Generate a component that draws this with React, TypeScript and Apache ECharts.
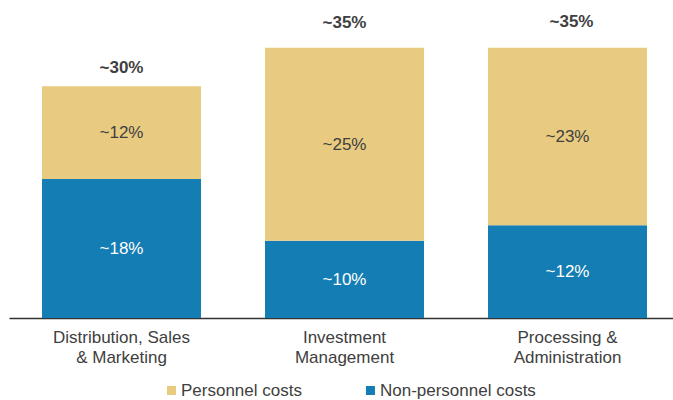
import React, { useEffect, useRef } from "react";
import * as echarts from "echarts";

const categories = ["Distribution, Sales\n& Marketing", "Investment\nManagement", "Processing &\nAdministration"];
const seriesNames = ["Personnel costs", "Non-personnel costs"];
const nonPersonnel = [18, 10, 12];
const personnel = [12, 25, 23];
const totals = [30, 35, 35];

const FONT = "Arial, 'Liberation Sans', sans-serif";
const TEXT = "#404040";
const BLUE = "#147DB3";
const YELLOW = "#E8CB80";

export default function App() {
  const ref = useRef<HTMLDivElement>(null);
  useEffect(() => {
    document.body.style.margin = "0";
    document.body.style.overflow = "hidden";
    if (!ref.current) return;
    const chart = echarts.init(ref.current, null, { renderer: "svg" });
    const totalLabelStyles = [
      { distance: 10, offset: [0, 0] },
      { distance: 17, offset: [0, 0] },
      { distance: 18, offset: [4, 0] },
    ];
    chart.setOption({
      animation: false,
      textStyle: { fontFamily: FONT },
      grid: { left: 10, right: 0, top: 9, height: 309, containLabel: false },
      legend: {
        data: seriesNames,
        left: 162,
        top: 377,
        icon: "rect",
        itemWidth: 9,
        itemHeight: 9,
        itemGap: 64,
        textStyle: { fontSize: 17, color: TEXT, fontFamily: FONT },
      },
      xAxis: {
        type: "category",
        data: categories,
        axisTick: { show: false },
        axisLine: { lineStyle: { color: "#333333", width: 1.3 } },
        axisLabel: { fontSize: 17, lineHeight: 20, color: TEXT, margin: 9, fontFamily: FONT },
      },
      yAxis: { type: "value", min: 0, max: 40, show: false, splitLine: { show: false } },
      series: [
        {
          name: seriesNames[1],
          type: "bar",
          stack: "cost",
          barWidth: 159,
          data: nonPersonnel,
          itemStyle: { color: BLUE },
          label: { show: true, position: "inside", color: "#ffffff", fontSize: 17, fontFamily: FONT, formatter: "~{c}%" },
        },
        {
          name: seriesNames[0],
          type: "bar",
          stack: "cost",
          barWidth: 159,
          data: personnel,
          itemStyle: { color: YELLOW },
          label: { show: true, position: "inside", color: TEXT, fontSize: 17, fontFamily: FONT, formatter: "~{c}%" },
        },
        {
          name: "Total",
          type: "bar",
          barWidth: 159,
          barGap: "-100%",
          data: totals.map((v, i) => ({ value: v, label: totalLabelStyles[i] })),
          z: 1,
          silent: true,
          itemStyle: { color: "rgba(0,0,0,0)" },
          label: { show: true, position: "top", distance: 10, color: TEXT, fontSize: 17, fontWeight: "bold", fontFamily: FONT, formatter: "~{c}%" },
        },
      ],
    });
    return () => chart.dispose();
  }, []);
  return <div ref={ref} style={{ width: 679, height: 400 }} />;
}
